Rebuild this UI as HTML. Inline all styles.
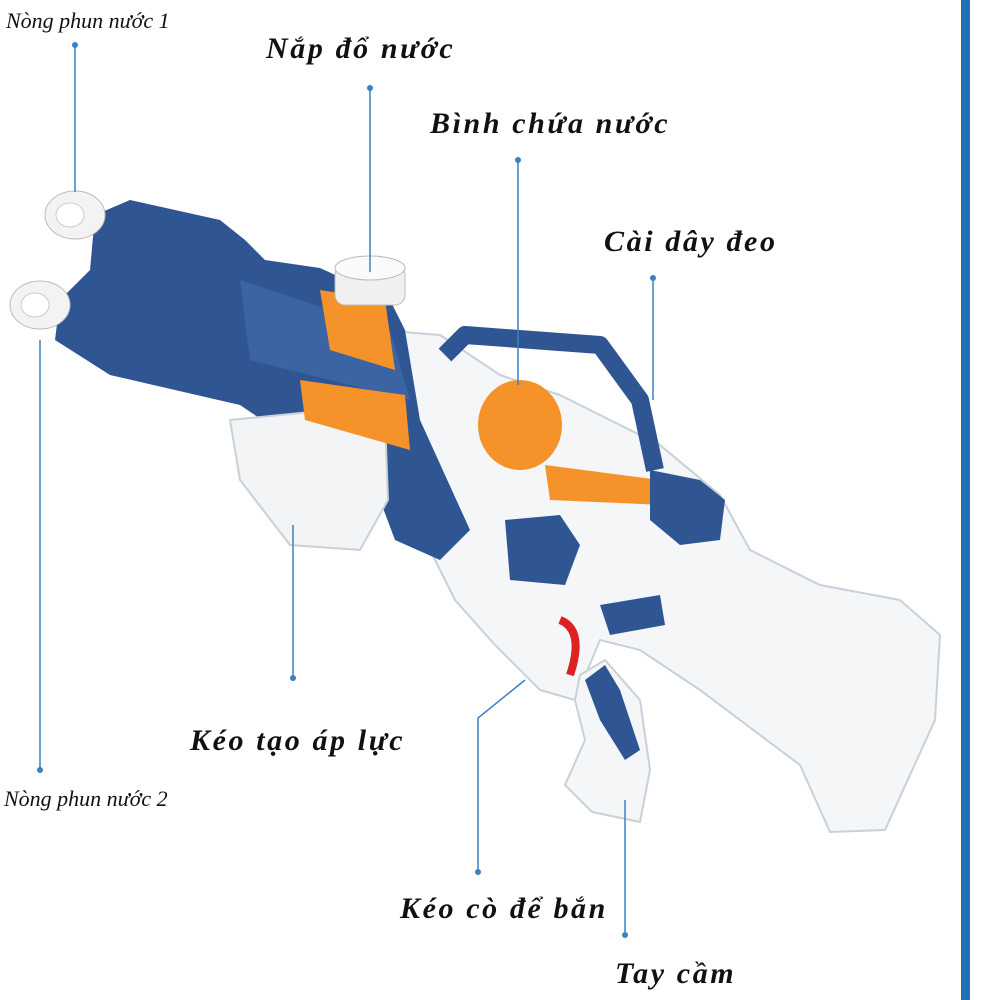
<!DOCTYPE html>
<html><head><meta charset="utf-8"><style>
html,body{margin:0;padding:0;background:#fff;}
body{width:1000px;height:1000px;position:relative;overflow:hidden;}
.l{position:absolute;font-family:"Liberation Serif","DejaVu Serif",serif;font-style:italic;font-weight:bold;color:#111;font-size:30px;letter-spacing:2.6px;white-space:nowrap;}
.s{font-weight:normal;font-size:22px;letter-spacing:0;}
</style></head><body>
<svg width="1000" height="1000" style="position:absolute;left:0;top:0">
<rect x="961" y="0" width="9" height="1000" fill="#1f72b8"/>
<polygon points="380,330 440,335 500,375 560,395 660,445 720,495 750,550 820,585 900,600 940,635 935,720 885,830 830,832 800,765 700,690 640,650 600,640 575,700 540,690 495,645 455,600 420,530" fill="#f4f6f8" stroke="#c8d0da" stroke-width="2"/>
<polygon points="95,215 130,200 220,220 245,240 265,260 320,268 390,300 405,330 420,420 470,530 440,560 395,540 380,500 240,405 110,375 55,340 60,300 90,270" fill="#2f5592"/>
<polygon points="240,280 390,330 410,400 250,360" fill="#3b64a3"/>
<polygon points="230,420 330,410 385,420 388,500 360,550 290,545 240,480" fill="#f2f4f6" stroke="#c8d0da" stroke-width="2"/>
<polygon points="300,380 405,395 410,450 305,420" fill="#f5922a"/>
<polygon points="320,290 385,300 395,370 330,350" fill="#f5922a"/>
<polygon points="545,465 660,480 665,505 550,500" fill="#f5922a"/>
<ellipse cx="520" cy="425" rx="42" ry="45" fill="#f5922a"/>
<polyline points="445,355 465,335 600,345 640,400 655,470" fill="none" stroke="#2f5592" stroke-width="18" stroke-linejoin="round"/>
<polygon points="650,470 700,480 725,500 720,540 680,545 650,520" fill="#2f5592"/>
<polygon points="505,520 560,515 580,545 565,585 510,580" fill="#2f5592"/>
<polygon points="600,605 660,595 665,625 610,635" fill="#2f5592"/>
<rect x="335" y="265" width="70" height="40" rx="10" fill="#f0f0f0" stroke="#bbb"/>
<ellipse cx="370" cy="268" rx="35" ry="12" fill="#fafafa" stroke="#bbb"/>
<ellipse cx="75" cy="215" rx="30" ry="24" fill="#f3f3f3" stroke="#bbb"/>
<ellipse cx="70" cy="215" rx="14" ry="12" fill="#fff" stroke="#ccc"/>
<ellipse cx="40" cy="305" rx="30" ry="24" fill="#f3f3f3" stroke="#bbb"/>
<ellipse cx="35" cy="305" rx="14" ry="12" fill="#fff" stroke="#ccc"/>
<polygon points="580,675 605,660 640,700 650,770 640,822 592,812 565,785 585,740 575,700" fill="#f4f6f8" stroke="#c8d0da" stroke-width="2"/>
<polygon points="585,680 605,665 620,690 640,750 625,760 600,720" fill="#2f5592"/>
<path d="M560,620 Q585,630 570,675" fill="none" stroke="#d22" stroke-width="8"/>
<g stroke="#3a82c4" stroke-width="1.5" fill="none">
<line x1="75" y1="45" x2="75" y2="192"/>
<line x1="370" y1="88" x2="370" y2="272"/>
<line x1="518" y1="160" x2="518" y2="385"/>
<line x1="653" y1="278" x2="653" y2="400"/>
<line x1="293" y1="678" x2="293" y2="525"/>
<line x1="40" y1="770" x2="40" y2="340"/>
<polyline points="478,872 478,718 525,680"/>
<line x1="625" y1="935" x2="625" y2="800"/>
</g>
<g fill="#3a82c4">
<circle cx="75" cy="45" r="3"/><circle cx="370" cy="88" r="3"/><circle cx="518" cy="160" r="3"/>
<circle cx="653" cy="278" r="3"/><circle cx="293" cy="678" r="3"/><circle cx="40" cy="770" r="3"/>
<circle cx="478" cy="872" r="3"/><circle cx="625" cy="935" r="3"/>
</g>
</svg>
<div class="l s" style="left:6px;top:8px">Nòng phun nước 1</div>
<div class="l" style="left:266px;top:32px">Nắp đổ nước</div>
<div class="l" style="left:430px;top:107px">Bình chứa nước</div>
<div class="l" style="left:604px;top:225px">Cài dây đeo</div>
<div class="l" style="left:190px;top:724px">Kéo tạo áp lực</div>
<div class="l s" style="left:4px;top:786px">Nòng phun nước 2</div>
<div class="l" style="left:400px;top:892px">Kéo cò để bắn</div>
<div class="l" style="left:615px;top:957px">Tay cầm</div>
</body></html>
